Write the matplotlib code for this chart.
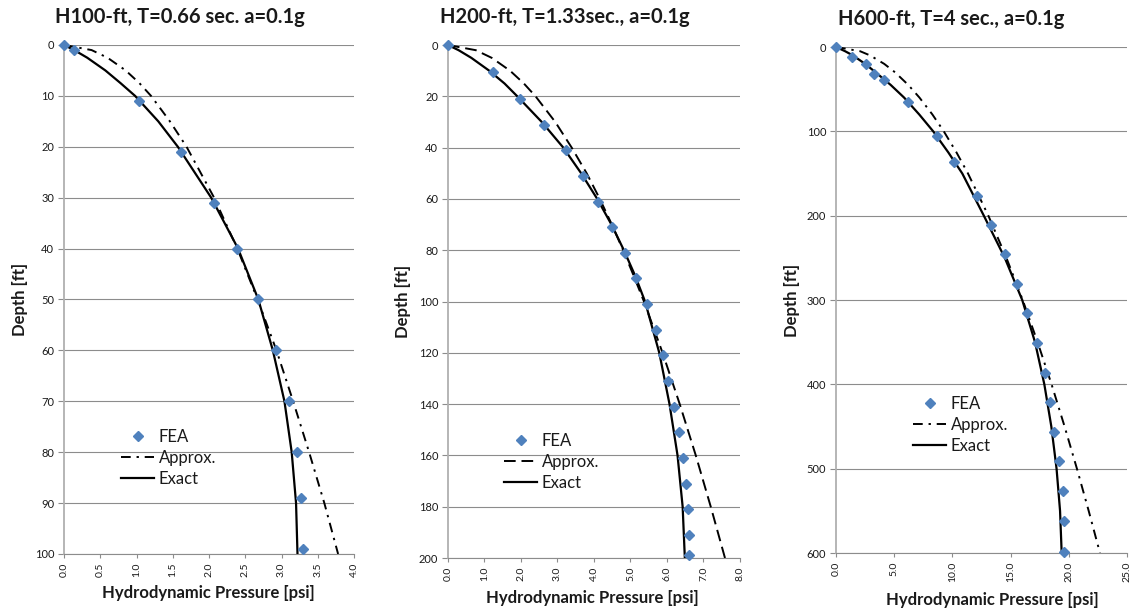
import matplotlib
matplotlib.use('Agg')
import matplotlib.pyplot as plt

plt.rcParams['font.family'] = ['Lato', 'DejaVu Sans']

# ---- H100 panel ----
h100_fea_depth = [0, 1, 11, 21, 31, 40, 50, 60, 70, 80, 89, 99]
h100_fea_p     = [0.0, 0.14, 1.04, 1.62, 2.07, 2.39, 2.68, 2.93, 3.10, 3.22, 3.27, 3.30]
h100_depth     = [0, 1, 2.5, 5, 7.5, 10, 15, 20, 30, 40, 50, 60, 70, 80, 90, 100]
h100_exact     = [0, 0.14, 0.32, 0.57, 0.78, 0.98, 1.30, 1.57, 2.03, 2.40, 2.68, 2.88, 3.04, 3.14, 3.20, 3.22]
h100_approx    = [0, 0.38, 0.60, 0.85, 1.04, 1.20, 1.46, 1.69, 2.07, 2.39, 2.67, 2.93, 3.16, 3.38, 3.59, 3.78]

# ---- H200 panel ----
h200_fea_depth = [0, 10.6, 21, 31, 41, 51, 61, 71, 81, 91, 101, 111, 121, 131,
                  141, 151, 161, 171, 181, 191, 199]
h200_fea_p     = [0.0, 1.22, 1.97, 2.63, 3.22, 3.69, 4.12, 4.50, 4.85, 5.15, 5.44, 5.69, 5.90, 6.04,
                  6.20, 6.33, 6.45, 6.52, 6.58, 6.61, 6.61]
h200_depth     = [0, 2, 5, 10, 15, 20, 30, 40, 50, 60, 70, 80, 90, 100, 120, 140, 160, 180, 200]
h200_exact     = [0, 0.29, 0.64, 1.13, 1.55, 1.90, 2.57, 3.16, 3.65, 4.09, 4.48, 4.82, 5.13, 5.40,
                  5.79, 6.07, 6.29, 6.43, 6.49]
h200_approx    = [0, 0.76, 1.20, 1.70, 2.08, 2.40, 2.94, 3.39, 3.80, 4.16, 4.49, 4.80, 5.09, 5.37,
                  5.88, 6.35, 6.79, 7.20, 7.59]

# ---- H600 panel ----
h600_fea_depth = [0, 12, 20, 32, 39, 65, 106, 136, 177, 211, 246, 281, 316, 351,
                  386, 421, 457, 491, 527, 562, 599]
h600_fea_p     = [0.0, 1.35, 2.58, 3.29, 4.15, 6.16, 8.70, 10.16, 12.08, 13.32, 14.52, 15.52,
                  16.44, 17.24, 17.96, 18.38, 18.76, 19.18, 19.53, 19.59, 19.59]
h600_depth     = [0, 5, 10, 20, 30, 45, 60, 80, 100, 125, 150, 200, 250, 300, 350, 400, 450, 500, 550, 600]
h600_exact     = [0, 0.78, 1.45, 2.50, 3.40, 4.70, 5.85, 7.15, 8.35, 9.65, 10.85, 12.70, 14.50, 16.00,
                  17.10, 17.90, 18.50, 18.95, 19.25, 19.39]
h600_approx    = [0, 2.07, 2.93, 4.14, 5.07, 6.21, 7.17, 8.28, 9.26, 10.35, 11.34, 13.09, 14.64, 16.04,
                  17.32, 18.52, 19.64, 20.70, 21.71, 22.68]

titles = ['H100-ft, T=0.66 sec. a=0.1g', 'H200-ft, T=1.33sec., a=0.1g', 'H600-ft, T=4 sec., a=0.1g']

FEA_BLUE = '#4F81BD'
GRID = '#8C8C8C'
TXT = '#1a1a1a'

fig = plt.figure(figsize=(11.29, 6.12), dpi=100)

panels = [
    dict(rect=[0.0567, 0.0948, 0.2569, 0.8317], fea=(h100_fea_p, h100_fea_depth),
         d=h100_depth, ex=h100_exact, ap=h100_approx, xlim=(0, 4), xstep=0.5,
         ylim=100, ystep=10, ls=(0, (5, 3, 1.2, 3)), title_xy=(180, 17),
         ylab_xy=(20, 299), xlab_xy=(208, 593), leg=(121, 429)),
    dict(rect=[0.3968, 0.0882, 0.2586, 0.8382], fea=(h200_fea_p, h200_fea_depth),
         d=h200_depth, ex=h200_exact, ap=h200_approx, xlim=(0, 8), xstep=1.0,
         ylim=200, ystep=20, ls=(0, (6, 3)), title_xy=(565, 17),
         ylab_xy=(403, 301), xlab_xy=(592, 598), leg=(504, 433)),
    dict(rect=[0.7405, 0.0964, 0.2577, 0.8268], fea=(h600_fea_p, h600_fea_depth),
         d=h600_depth, ex=h600_exact, ap=h600_approx, xlim=(0, 25), xstep=5.0,
         ylim=600, ystep=100, ls=(0, (5, 3, 1.2, 3)), title_xy=(951, 19),
         ylab_xy=(792, 300), xlab_xy=(992, 600), leg=(913, 396)),
]

W, H = 1129.0, 612.0
for i, p in enumerate(panels):
    ax = fig.add_axes(p['rect'])
    l_fea, = ax.plot(p['fea'][0], p['fea'][1], linestyle='none', marker='D', ms=5.2,
                     color=FEA_BLUE, clip_on=False, zorder=4, label='FEA')
    l_ap, = ax.plot(p['ap'], p['d'], color='black', lw=1.4, linestyle=p['ls'],
                    zorder=3, label='Approx.')
    l_ex, = ax.plot(p['ex'], p['d'], color='black', lw=1.6, zorder=3, label='Exact')

    ax.set_xlim(*p['xlim'])
    ax.set_ylim(p['ylim'], 0)
    n = int(round((p['xlim'][1] - p['xlim'][0]) / p['xstep']))
    xt = [p['xlim'][0] + k * p['xstep'] for k in range(n + 1)]
    ax.set_xticks(xt)
    ax.set_xticklabels(['%.1f' % v for v in xt], rotation=90, fontsize=7.5, color=TXT)
    yt = list(range(0, p['ylim'] + 1, p['ystep']))
    ax.set_yticks(yt)
    ax.set_yticklabels([str(v) for v in yt], fontsize=8, color=TXT)

    ax.grid(axis='y', color=GRID, lw=0.8)
    ax.set_axisbelow(True)
    for s in ['top', 'right']:
        ax.spines[s].set_visible(False)
    ax.spines['left'].set_color('#B0B0B0')
    ax.spines['left'].set_linewidth(1.3)
    ax.spines['bottom'].set_color(GRID)
    ax.spines['bottom'].set_linewidth(0.8)
    ax.tick_params(axis='y', length=4, color=GRID, pad=3)
    ax.tick_params(axis='x', length=3, color=GRID, pad=3)

    lx, ly = p['leg']
    leg = ax.legend(handles=[l_fea, l_ap, l_ex], loc='upper left',
                    bbox_to_anchor=((lx - p['rect'][0] * W) / (p['rect'][2] * W),
                                    1 - (ly - (1 - p['rect'][1] - p['rect'][3]) * H) / (p['rect'][3] * H)),
                    frameon=False, fontsize=12, handlelength=2.0, handletextpad=0.25,
                    labelspacing=0.3, borderaxespad=0, borderpad=0)
    for t in leg.get_texts():
        t.set_color(TXT)

    tx, ty = p['title_xy']
    fig.text(tx / W, 1 - ty / H, titles[i], ha='center', va='center',
             fontsize=14.5, fontweight='bold', color=TXT)
    yx, yy = p['ylab_xy']
    fig.text(yx / W, 1 - yy / H, 'Depth [ft]', ha='center', va='center',
             rotation=90, fontsize=12, fontweight='bold', color=TXT)
    xx, xy = p['xlab_xy']
    fig.text(xx / W, 1 - xy / H, 'Hydrodynamic Pressure [psi]', ha='center', va='center',
             fontsize=12, fontweight='bold', color=TXT)

fig.savefig('out.png', dpi=100)
